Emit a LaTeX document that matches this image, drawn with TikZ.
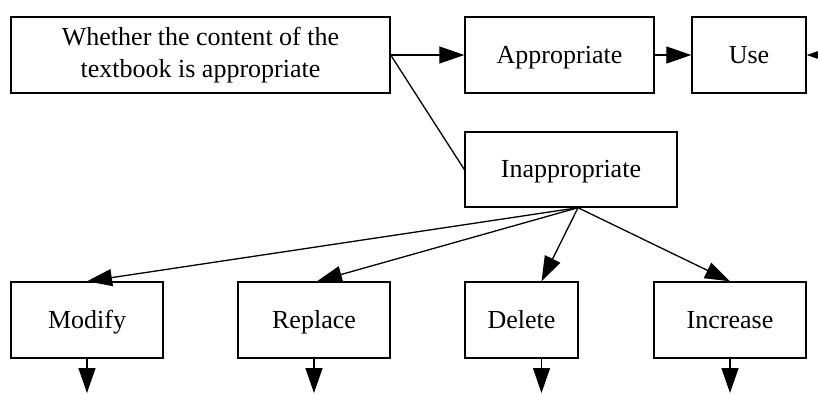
\documentclass[tikz,border=0pt]{standalone}
\usepackage{fontspec}
\setmainfont{Liberation Serif}
\usetikzlibrary{arrows.meta, positioning}

\tikzset{
  box/.style={draw, line width=0.7pt, minimum height=38pt, inner sep=0pt,
    align=center, font=\fontsize{13}{16}\selectfont},
  word/.style={box, text height=10pt, text depth=2pt},
  link/.style={line width=0.65pt},
  flow/.style={link, -{Triangle[length=12.5pt, width=8.5pt]}},
}

\begin{document}
\begin{tikzpicture}[x=0.5pt, y=-0.5pt]
  \useasboundingbox (0,0) rectangle (818,393);

  \node[box, minimum width=189.5pt] (q)    at (200.5,55) {Whether the content of the\\textbook is appropriate};
  \node[word, minimum width=94.5pt]  (app) at (559.5,55) {Appropriate};
  \node[word, minimum width=57pt]    (use) at (749,55)   {Use};
  \node[word, minimum width=106pt, minimum height=37.5pt] (inapp) at (571,169.5) {Inappropriate};

  \node[word, minimum width=76pt]   (mod) at (87,320)    {Modify};
  \node[word, minimum width=76pt]   (rep) at (314,320)   {Replace};
  \node[word, minimum width=56.5pt] (del) at (521.5,320) {Delete};
  \node[word, minimum width=76pt]   (inc) at (730,320)   {Increase};

  \coordinate (fan) at ([xshift=3.5pt]inapp.south);
  \coordinate (ext) at (840,55);
  \coordinate (floor) at (0,393);

  \draw[flow] (q.east) -- (app.west);
  \draw[flow] (app.east) -- (use.west);
  \draw[flow] (ext) -- (use.east);
  \draw[link] (q.east) -- (inapp.west);

  % fan out from the bottom of Inappropriate
  \draw[flow] (fan) -- (mod.north);
  \draw[flow] (fan) -- ([xshift=1.5pt]rep.north);
  \draw[flow] (fan) -- ([xshift=10pt]del.north);
  \draw[flow] (fan) -- (inc.north);

  \foreach \n in {mod, rep, inc} {
    \coordinate (\n-end) at (\n.south |- floor);
    \draw[flow] (\n.south) -- (\n-end);
  }
  \coordinate (del-out) at ([xshift=10pt]del.south);
  \coordinate (del-end) at (del-out |- floor);
  \draw[flow] (del-out) -- (del-end);
\end{tikzpicture}
\end{document}
